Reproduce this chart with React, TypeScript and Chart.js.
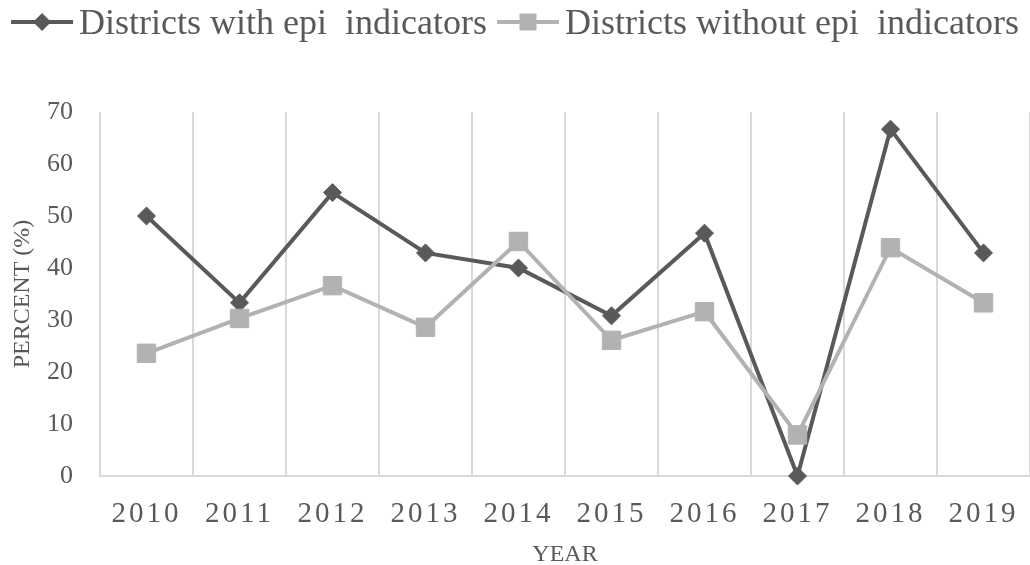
import { useEffect, useRef } from "react";
import { Chart, registerables } from "chart.js";

Chart.register(...registerables);

const years = ["2010", "2011", "2012", "2013", "2014", "2015", "2016", "2017", "2018", "2019"];
const withEpi = [50, 33.3, 54.5, 42.9, 40, 30.8, 46.7, 0, 66.7, 42.9];
const withoutEpi = [23.6, 30.3, 36.6, 28.6, 45.1, 26.1, 31.6, 7.9, 43.9, 33.3];
const seriesLabels = ["Districts with epi  indicators", "Districts without epi  indicators"];
const yMin = 0;
const yMax = 70;
const yStep = 10;

const DARK = "#595959";
const LIGHT = "#b2b2b2";
const GRID = "#d9d9d9";
const TEXT = "#595959";
const FONT = '"Liberation Serif", "Times New Roman", serif';

const legendPlugin = {
  id: "lineMarkerLegend",
  afterDraw(chart: any) {
    const ctx = chart.ctx as CanvasRenderingContext2D;
    ctx.save();
    ctx.font = `36px ${FONT}`;
    const lineLen = 62;
    const gap = 6;
    const itemGap = 10;
    const items = chart.data.datasets.map((ds: any) => ({
      ds,
      w: lineLen + gap + ctx.measureText(ds.label).width,
    }));
    const total = items.reduce((a: number, it: any) => a + it.w, 0) + itemGap * (items.length - 1);
    let x = (chart.width - total) / 2;
    const y = 22;
    items.forEach(({ ds, w }: any) => {
      ctx.strokeStyle = ds.borderColor;
      ctx.lineWidth = 4;
      ctx.beginPath();
      ctx.moveTo(x, y);
      ctx.lineTo(x + lineLen, y);
      ctx.stroke();
      const cx = x + lineLen / 2;
      ctx.fillStyle = ds.borderColor;
      ctx.beginPath();
      if (ds.pointStyle === "rectRot") {
        const r = 9;
        ctx.moveTo(cx - r, y);
        ctx.lineTo(cx, y - r);
        ctx.lineTo(cx + r, y);
        ctx.lineTo(cx, y + r);
        ctx.closePath();
      } else {
        const h = 8.5;
        ctx.rect(cx - h, y - h, 2 * h, 2 * h);
      }
      ctx.fill();
      ctx.fillStyle = TEXT;
      ctx.textBaseline = "alphabetic";
      ctx.textAlign = "left";
      ctx.fillText(ds.label, x + lineLen + gap, 34);
      x += w + itemGap;
    });
    ctx.restore();
  },
};

const spacingPlugin = {
  id: "xLetterSpacing",
  beforeDraw(chart: any) {
    const s = chart.scales.x;
    if (s && !s.__spaced) {
      const orig = s.drawLabels;
      s.drawLabels = function (area: any) {
        const c = this.ctx;
        c.save();
        (c as any).letterSpacing = "3px";
        orig.call(this, area);
        c.restore();
      };
      s.__spaced = true;
    }
  },
};

export default function App() {
  const ref = useRef<HTMLCanvasElement | null>(null);

  useEffect(() => {
    if (!ref.current) return;
    const chart = new Chart(ref.current, {
      type: "line",
      data: {
        labels: years,
        datasets: [
          {
            label: seriesLabels[0],
            data: withEpi,
            borderColor: DARK,
            backgroundColor: DARK,
            pointBackgroundColor: DARK,
            pointBorderColor: DARK,
            borderWidth: 4,
            pointStyle: "rectRot",
            pointRadius: 9,
            pointBorderWidth: 1,
            tension: 0,
            clip: false,
            order: 2,
          },
          {
            label: seriesLabels[1],
            data: withoutEpi,
            borderColor: LIGHT,
            backgroundColor: LIGHT,
            pointBackgroundColor: LIGHT,
            pointBorderColor: LIGHT,
            borderWidth: 4,
            pointStyle: "rect",
            pointRadius: 13,
            pointBorderWidth: 1,
            tension: 0,
            clip: false,
            order: 1,
          },
        ],
      },
      options: {
        responsive: false,
        animation: false,
        layout: { autoPadding: false, padding: { top: 112, left: 0, right: 0, bottom: 0 } },
        plugins: {
          legend: { display: false },
          tooltip: { enabled: false },
        },
        scales: {
          x: {
            type: "category",
            offset: true,
            grid: {
              display: true,
              offset: true,
              color: GRID,
              lineWidth: 2,
              drawTicks: false,
            },
            border: { display: true, color: GRID, width: 2 },
            ticks: {
              color: TEXT,
              font: { family: FONT, size: 29 },
              padding: 21,
              maxRotation: 0,
              autoSkip: false,
            },
            title: {
              display: true,
              text: "YEAR",
              color: TEXT,
              font: { family: FONT, size: 24, lineHeight: 1 },
              padding: { top: 0, bottom: -2 },
            },
            afterFit(scale: any) {
              scale.height = 89;
              scale.paddingLeft = 0;
              scale.paddingRight = 0;
            },
          },
          y: {
            min: yMin,
            max: yMax,
            grid: { display: false, drawTicks: false },
            border: { display: false },
            ticks: {
              stepSize: yStep,
              color: TEXT,
              font: { family: FONT, size: 26 },
              padding: 27,
            },
            title: {
              display: true,
              text: "PERCENT (%)",
              color: TEXT,
              font: { family: FONT, size: 24, lineHeight: 1 },
              padding: { top: 11, bottom: 0 },
            },
            afterFit(scale: any) {
              scale.width = 100;
            },
          },
        },
      },
      plugins: [legendPlugin, spacingPlugin],
    });
    return () => chart.destroy();
  }, []);

  return (
    <div style={{ position: "absolute", left: 0, top: 0, width: 1030, height: 565, background: "#fff" }}>
      <canvas ref={ref} width={1030} height={565} style={{ display: "block" }} />
    </div>
  );
}
